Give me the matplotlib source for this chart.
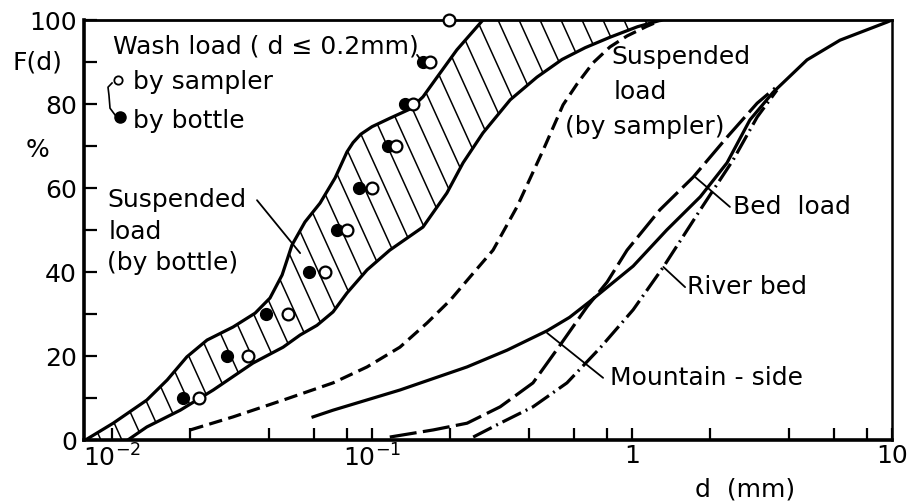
import numpy as np
import matplotlib
matplotlib.use("Agg")
import matplotlib.pyplot as plt
from matplotlib.patches import Polygon
from matplotlib.collections import LineCollection

# hatched band of suspended load (by bottle): left and right edges
band_left_d = [0.0079, 0.0101, 0.0136, 0.0163, 0.0194, 0.0232, 0.0292, 0.0355, 0.0405,
               0.0451, 0.0492, 0.0552, 0.0631, 0.0721, 0.0801, 0.0845, 0.0905, 0.1, 0.117,
               0.140, 0.157, 0.178, 0.212, 0.267]
band_left_F = [0, 4, 9.5, 14.3, 19.8, 23.8, 26.9, 30.2, 33.8,
               39.3, 46.4, 51.9, 56.4, 62.4, 68.6, 70.8, 72.8, 74.6, 76.6,
               78.8, 81.7, 86.4, 92.9, 100]
band_right_d = [0.0115, 0.0136, 0.0183, 0.0245, 0.0348, 0.0455, 0.0529, 0.0614, 0.0708,
                0.0801, 0.0957, 0.117, 0.157, 0.194, 0.224, 0.267, 0.34, 0.431,
                0.538, 0.66, 0.823, 1.05, 1.30]
band_right_F = [0, 3.1, 7.1, 11.9, 18.3, 22.1, 25.0, 27.3, 30.5,
                35, 40.5, 45.2, 50.7, 58.8, 66, 73.1, 81, 86.4,
                90.6, 93.4, 95.9, 98.4, 100]

# suspended load (by sampler), dashed
sampler_d = [0.02, 0.0292, 0.0455, 0.0708, 0.0957, 0.128, 0.163, 0.2, 0.238, 0.292,
             0.361, 0.455, 0.543, 0.615, 0.708, 0.823, 0.957, 1.14, 1.30]
sampler_F = [2.4, 5.5, 9.5, 13.6, 17.4, 22.1, 27.9, 33.3, 38.8, 45.2,
             55.5, 69, 79.8, 84.8, 89.8, 93.6, 96.2, 98.5, 100]

# mountain-side, solid
mountain_d = [0.0593, 0.0708, 0.128, 0.232, 0.331, 0.471, 0.575, 0.689, 1.01, 1.36, 1.83,
              2.32, 2.84, 3.49, 4.71, 6.31, 9.57, 10]
mountain_F = [5.5, 7.1, 11.9, 17.4, 21.4, 26.0, 29.2, 33.0, 41.4, 50, 57.9,
              66, 76.2, 82.8, 90.5, 95.2, 99.5, 100]

# bed load, long dash
bedload_d = [0.117, 0.172, 0.232, 0.311, 0.416, 0.529, 0.671, 0.802, 0.957, 1.28,
             1.72, 2.32, 3.03, 3.55]
bedload_F = [0.7, 2.4, 4, 7.9, 13.6, 22.6, 31.7, 37.6, 45.2, 54.8,
             62.6, 72.1, 80.2, 83.8]

# river bed, dash-dot
riverbed_d = [0.245, 0.311, 0.416, 0.562, 0.753, 1.01, 1.32, 1.83, 2.45, 3.03, 3.61]
riverbed_F = [0.7, 4, 7.9, 13.6, 21.9, 31, 41.2, 54.8, 66.7, 76.9, 83.3]

# wash load samples
bottle_d = [0.0188, 0.0277, 0.0391, 0.0573, 0.0733, 0.0891, 0.1153, 0.134, 0.157]
bottle_F = [10, 20, 30, 40, 50, 60, 70, 80, 90]
sampler_pts_d = [0.0216, 0.0334, 0.0475, 0.0659, 0.0801, 0.1, 0.1237, 0.144, 0.167, 0.198]
sampler_pts_F = [10, 20, 30, 40, 50, 60, 70, 80, 90, 100]

x_major = [0.01, 0.1, 1, 10]
x_major_labels = ['$10^{-2}$', '$10^{-1}$', '1', '10']
x_minor = [m * 10.0 ** e for e in (-2, -1, 0) for m in (2, 4, 6, 8)]

FS = 18
plt.rcParams['font.family'] = ['DejaVu Sans']
plt.rcParams['mathtext.fontset'] = 'dejavusans'

fig = plt.figure(figsize=(9.09, 5.01), dpi=100)
ax = fig.add_axes([84 / 909, 61 / 501, 808 / 909, 420 / 501])
ax.set_xscale('log')
ax.set_xlim(0.0078, 10)
ax.set_ylim(0, 100)

LW = 2.3
line_kw = dict(color='black', lw=LW, solid_joinstyle='round', dash_joinstyle='round')

# hatched band
verts = list(zip(band_left_d, band_left_F)) + list(zip(band_right_d[::-1], band_right_F[::-1]))
poly = Polygon(verts, closed=True, facecolor='none', edgecolor='none', transform=ax.transData)
ax.add_patch(poly)
segs = []
for xc in np.arange(-300, 900, 21):
    x0 = (xc - 84) / 808
    x1 = (xc + 420 / 2.2 - 84) / 808
    segs.append([(x0, 1.0), (x1, 0.0)])
lc = LineCollection(segs, colors='black', linewidths=1.1, transform=ax.transAxes)
ax.add_collection(lc)
lc.set_clip_path(poly)

ax.plot(band_left_d, band_left_F, **line_kw)
ax.plot(band_right_d, band_right_F, **line_kw)
ax.plot(sampler_d, sampler_F, dashes=(4.2, 2.0), **line_kw)
ax.plot(mountain_d, mountain_F, **line_kw)
ax.plot(bedload_d, bedload_F, dashes=(8.5, 2.0), **line_kw)
ax.plot(riverbed_d, riverbed_F, dashes=(6.5, 1.6, 0.6, 1.6), **line_kw)

ax.plot(bottle_d, bottle_F, 'o', ms=8.5, color='black', zorder=5)
ax.plot(sampler_pts_d, sampler_pts_F, 'o', ms=8.5, mfc='white', mec='black', mew=1.6, zorder=5, clip_on=False)

# axes styling
for side, w in (('left', 2.6), ('bottom', 2.6), ('top', 2.0), ('right', 1.8)):
    ax.spines[side].set_linewidth(w)
ax.set_xticks(x_major)
ax.set_xticklabels(x_major_labels)
ax.set_xticks(x_minor, minor=True)
ax.set_xticklabels([], minor=True)
ax.set_yticks([0, 20, 40, 60, 80, 100])
ax.set_yticks([10, 30, 50, 70, 90], minor=True)
ax.tick_params(which='both', direction='in', length=9, width=1.6, top=False, right=False, labelsize=FS)
ax.tick_params(axis='x', which='both', pad=3)
ax.tick_params(axis='y', which='both', pad=5)

# labels and annotations
T = ax.transAxes
ax.text(-0.058, 0.898, 'F(d)', transform=T, fontsize=FS, ha='center', va='center')
ax.text(-0.057, 0.690, '%', transform=T, fontsize=FS, ha='center', va='center')
ax.text(0.818, -0.119, 'd  (mm)', transform=T, fontsize=FS, ha='center', va='center', clip_on=False)

ax.text(0.0359, 0.936, 'Wash load ( d \u2264 0.2mm)', transform=T, fontsize=FS, va='center')
ax.text(0.0606, 0.852, 'by sampler', transform=T, fontsize=FS, va='center')
ax.text(0.0606, 0.760, 'by bottle', transform=T, fontsize=FS, va='center')
ax.plot([0.0421], [0.857], 'o', ms=6, mfc='white', mec='black', mew=1.3, transform=T)
ax.plot([0.0446], [0.769], 'o', ms=8, color='black', transform=T)
ax.plot([0.0347, 0.0297, 0.0309, 0.0322, 0.0384], [0.850, 0.840, 0.821, 0.790, 0.774],
        color='black', lw=1.2, transform=T)

ax.text(0.0285, 0.571, 'Suspended', transform=T, fontsize=FS, va='center')
ax.text(0.0310, 0.495, 'load', transform=T, fontsize=FS, va='center')
ax.text(0.0285, 0.421, '(by bottle)', transform=T, fontsize=FS, va='center')

ax.text(0.653, 0.912, 'Suspended', transform=T, fontsize=FS, va='center')
ax.text(0.655, 0.829, 'load', transform=T, fontsize=FS, va='center')
ax.text(0.595, 0.745, '(by sampler)', transform=T, fontsize=FS, va='center')

ax.text(0.803, 0.555, 'Bed  load', transform=T, fontsize=FS, va='center')
ax.text(0.746, 0.364, 'River bed', transform=T, fontsize=FS, va='center')
ax.text(0.651, 0.148, 'Mountain - side', transform=T, fontsize=FS, va='center')

lead = dict(arrowstyle='-', lw=1.3, color='black', shrinkA=0, shrinkB=0)
ax.annotate('', xy=(0.0529, 44.5), xytext=(0.0361, 57.1), arrowprops=lead)
ax.annotate('', xy=(2.38, 55.5), xytext=(1.75, 62.6), arrowprops=lead)
ax.annotate('', xy=(1.6, 36.4), xytext=(1.32, 41.2), arrowprops=lead)
ax.annotate('', xy=(0.774, 14.8), xytext=(0.471, 25.5), arrowprops=lead)
ax.annotate('', xy=(0.154, 90.5), xytext=(0.149, 91.7), arrowprops=lead)

fig.savefig('out.png', dpi=100)
